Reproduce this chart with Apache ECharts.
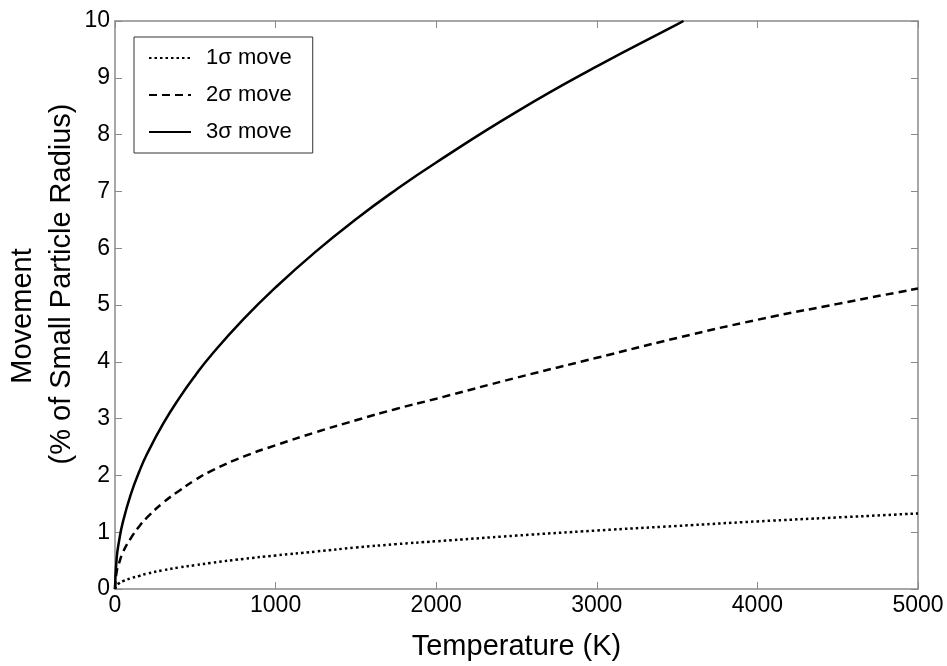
<!DOCTYPE html>
<html>
<head>
<meta charset="utf-8">
<script src="https://cdn.jsdelivr.net/npm/echarts@6/dist/echarts.min.js"></script>
<style>
  html, body { margin: 0; padding: 0; background: #fff; }
  #main { width: 947px; height: 666px; }
</style>
</head>
<body>
<div id="main"></div>
<script>
// temperatures (K) sampled along the curves
var temps = [0, 10, 25, 50, 100, 150, 200, 300, 400, 500, 600, 800, 1000, 1250, 1500, 1750, 2000, 2500, 3000, 3500, 4000, 4500, 5000];
// 1 sigma move
var move1 = [0, 0.06, 0.10, 0.14, 0.19, 0.23, 0.27, 0.33, 0.38, 0.42, 0.46, 0.53, 0.59, 0.66, 0.73, 0.79, 0.84, 0.94, 1.03, 1.11, 1.19, 1.26, 1.33];
// 2 sigma move
var move2 = [0, 0.30, 0.45, 0.65, 0.90, 1.10, 1.26, 1.52, 1.73, 1.92, 2.08, 2.33, 2.53, 2.76, 2.97, 3.17, 3.35, 3.72, 4.07, 4.42, 4.74, 5.02, 5.29];
// 3 sigma move leaves the plot at about 3540 K
var temps3 = [0, 10, 25, 50, 100, 150, 200, 300, 400, 500, 600, 800, 1000, 1250, 1500, 1750, 2000, 2500, 3000, 3500, 3540];
var move3 = [0, 0.53, 0.84, 1.19, 1.68, 2.06, 2.38, 2.91, 3.36, 3.76, 4.12, 4.75, 5.31, 5.94, 6.51, 7.03, 7.51, 8.40, 9.20, 9.94, 10.0];

var seriesNames = ['1σ move', '2σ move', '3σ move'];

function pairs(xs, ys) {
  var out = [];
  for (var i = 0; i < xs.length; i++) out.push([xs[i], ys[i]]);
  return out;
}

var font = 'Liberation Sans, Arial, sans-serif';
var axisGray = '#8a8a8a';

var myChart = echarts.init(document.getElementById('main'));

var option = {
  backgroundColor: '#fff',
  animation: false,
  textStyle: { fontFamily: font, color: '#000' },
  grid: { left: 115, right: 29, top: 21, bottom: 65 },
  legend: {
    orient: 'vertical',
    left: 134,
    top: 37,
    padding: [10, 21, 10, 14],
    itemWidth: 42,
    itemHeight: 14,
    itemGap: 15,
    borderColor: '#333',
    borderWidth: 1,
    itemStyle: { opacity: 0 },
    textStyle: { fontFamily: font, fontSize: 22, color: '#000', padding: [0, 0, 0, 10] },
    data: seriesNames
  },
  xAxis: [
    {
      type: 'value',
      min: 0, max: 5000, interval: 1000,
      name: 'Temperature (K)',
      nameLocation: 'middle',
      nameGap: 43,
      nameTextStyle: { fontFamily: font, fontSize: 29, color: '#000' },
      axisLine: { onZero: false, lineStyle: { color: axisGray, width: 1.5 } },
      axisTick: { inside: true, length: 7, lineStyle: { color: axisGray } },
      axisLabel: { fontFamily: font, fontSize: 23, color: '#000', margin: 5, formatter: function (v) { return String(v); } },
      splitLine: { show: false }
    },
    {
      type: 'value',
      position: 'top',
      min: 0, max: 5000, interval: 1000,
      axisLine: { show: true, onZero: false, lineStyle: { color: axisGray, width: 1.5 } },
      axisTick: { inside: true, length: 7, lineStyle: { color: axisGray } },
      axisLabel: { show: false },
      splitLine: { show: false }
    }
  ],
  yAxis: [
    {
      type: 'value',
      min: 0, max: 10, interval: 1,
      axisLine: { show: true, onZero: false, lineStyle: { color: axisGray, width: 1.5 } },
      axisTick: { show: true, inside: true, length: 7, lineStyle: { color: axisGray } },
      axisLabel: { fontFamily: font, fontSize: 23, color: '#000', margin: 5 },
      splitLine: { show: false }
    },
    {
      type: 'value',
      position: 'right',
      min: 0, max: 10, interval: 1,
      axisLine: { show: true, onZero: false, lineStyle: { color: axisGray, width: 1.5 } },
      axisTick: { show: true, inside: true, length: 7, lineStyle: { color: axisGray } },
      axisLabel: { show: false },
      splitLine: { show: false }
    }
  ],
  graphic: [
    {
      type: 'text',
      x: 23, y: 316,
      rotation: Math.PI / 2,
      style: { text: 'Movement', fontFamily: font, fontSize: 29, fill: '#000', align: 'center', verticalAlign: 'middle' }
    },
    {
      type: 'text',
      x: 62, y: 284,
      rotation: Math.PI / 2,
      style: { text: '(% of Small Particle Radius)', fontFamily: font, fontSize: 29, fill: '#000', align: 'center', verticalAlign: 'middle' }
    }
  ],
  series: [
    {
      name: seriesNames[0],
      type: 'line',
      showSymbol: false,
      symbol: 'none',
      smooth: true,
      data: pairs(temps, move1),
      lineStyle: { color: '#000', width: 2.5, type: [2.5, 3] },
      itemStyle: { color: '#000' }
    },
    {
      name: seriesNames[1],
      type: 'line',
      showSymbol: false,
      symbol: 'none',
      smooth: true,
      data: pairs(temps, move2),
      lineStyle: { color: '#000', width: 2.5, type: [8, 5] },
      itemStyle: { color: '#000' }
    },
    {
      name: seriesNames[2],
      type: 'line',
      showSymbol: false,
      symbol: 'none',
      smooth: true,
      data: pairs(temps3, move3),
      lineStyle: { color: '#000', width: 2.5, type: 'solid' },
      itemStyle: { color: '#000' }
    }
  ]
};

myChart.setOption(option);
</script>
</body>
</html>
